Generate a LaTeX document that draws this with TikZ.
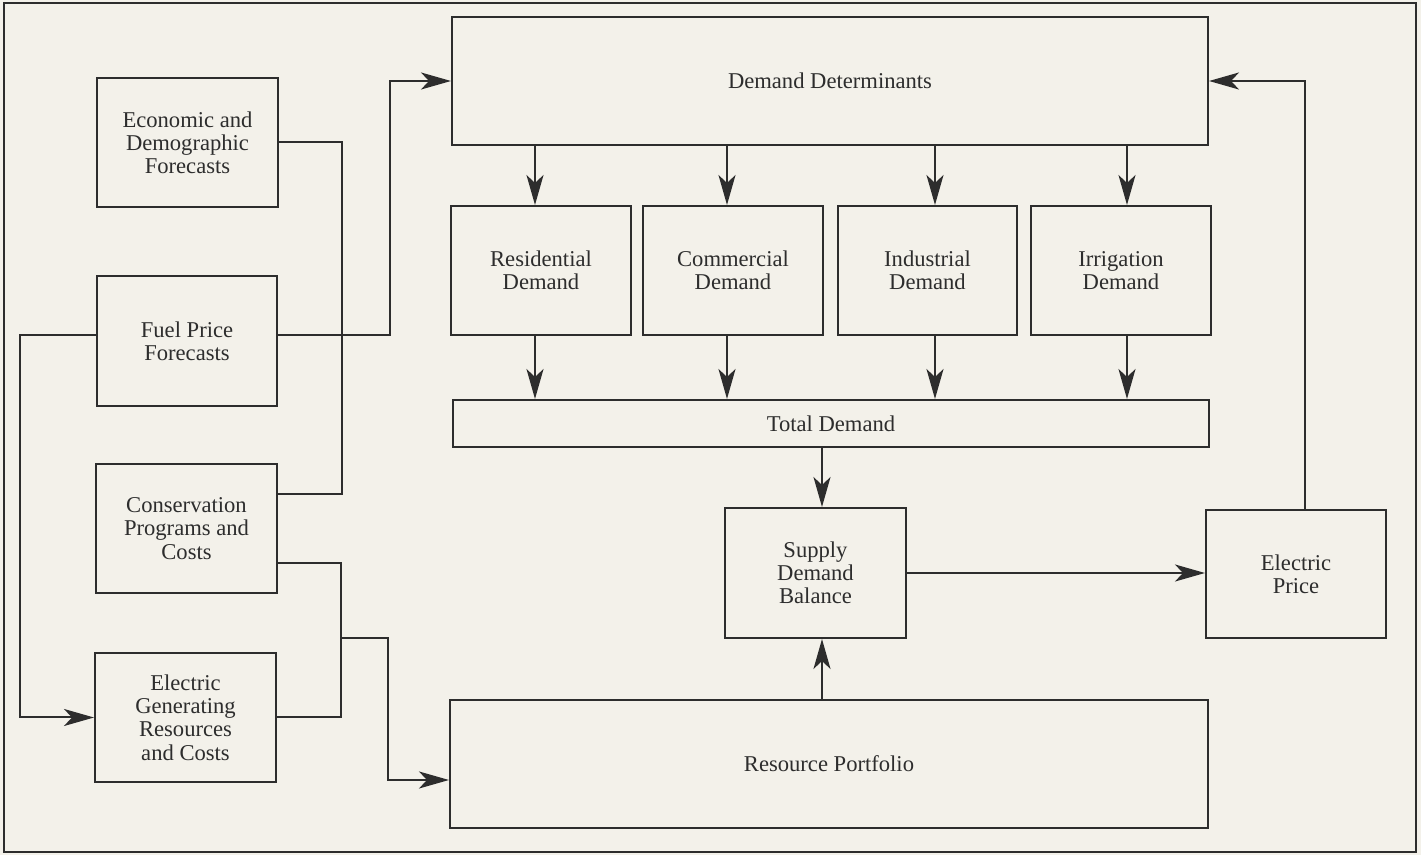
\documentclass[tikz,border=0pt]{standalone}
\usepackage{fontspec}
\setmainfont{Liberation Serif}
\usetikzlibrary{arrows.meta,calc}
\definecolor{bgc}{RGB}{243,241,234}
\definecolor{inkc}{RGB}{45,45,45}
\begin{document}
\begin{tikzpicture}[x=0.5pt,y=-0.5pt,
  bx/.style={draw=inkc,line width=1pt,inner sep=0pt,align=center,text=inkc,
    font=\fontsize{11.3}{11.6}\selectfont},
  ln/.style={draw=inkc,line width=1pt},
  arr/.style={ln,-{Stealth[length=15pt,width=8.5pt,inset=4pt]}}]
\fill[bgc] (0,0) rectangle (1421,855);
\useasboundingbox (0,0) rectangle (1421,855);
\draw[inkc,line width=1pt] (4,3) rectangle (1416,852);
% left column
\node[bx,minimum width=90.5pt,minimum height=64.5pt] (econ) at (187.5,142.5) {Economic and\\Demographic\\Forecasts};
\node[bx,minimum width=90pt,minimum height=65pt] (fuel) at (187,341) {Fuel Price\\Forecasts};
\node[bx,minimum width=90.5pt,minimum height=64.5pt] (cons) at (186.5,528.5) {Conservation\\Programs and\\Costs};
\node[bx,minimum width=90.5pt,minimum height=64.5pt] (gen) at (185.5,717.5) {Electric\\Generating\\Resources\\and Costs};
% main column
\node[bx,minimum width=378pt,minimum height=64pt] (dd) at (830,81) {Demand Determinants};
\node[bx,minimum width=90pt,minimum height=64.5pt] (res) at (541,270.5) {Residential\\Demand};
\node[bx,minimum width=90pt,minimum height=64.5pt] (com) at (733,270.5) {Commercial\\Demand};
\node[bx,minimum width=89.5pt,minimum height=64.5pt] (ind) at (927.5,270.5) {Industrial\\Demand};
\node[bx,minimum width=90pt,minimum height=64.5pt] (irr) at (1121,270.5) {Irrigation\\Demand};
\node[bx,minimum width=378pt,minimum height=23.5pt] (tot) at (831,423.5) {Total Demand};
\node[bx,minimum width=90.5pt,minimum height=65pt] (sdb) at (815.5,573) {Supply\\Demand\\Balance};
\node[bx,minimum width=90pt,minimum height=64pt] (ep) at (1296,574) {Electric\\Price};
\node[bx,minimum width=379pt,minimum height=64pt] (rp) at (829,764) {Resource Portfolio};
% junction coordinates
\coordinate (ec) at (342,494);
\coordinate (fdx) at (390,335);
\coordinate (fg) at (20,717.5);
\coordinate (cg) at (341,717.5);
\coordinate (br) at (341,638);
\coordinate (bk) at (388,638);
% left connectors
\draw[ln] (econ.east) -| (ec) -- ([yshift=17.25pt]cons.east);
\draw[arr] ([yshift=3pt]fuel.east) -- (fdx) |- (dd.west);
\draw[arr] ([yshift=3pt]fuel.west) -| (fg) -- (gen.west);
\draw[ln] ([yshift=-17.25pt]cons.east) -| (cg) -- (gen.east);
\draw[arr] (br) -- (bk) |- ([yshift=-8pt]rp.west);
% demand arrows
\foreach \n/\s in {res/-3pt,com/-3pt,ind/3.75pt,irr/3pt}{
  \draw[arr] ([xshift=\s]\n.north |- dd.south) -- ([xshift=\s]\n.north);
  \draw[arr] ([xshift=\s]\n.south) -- ([xshift=\s]\n.south |- tot.north);
}
\draw[arr] ([xshift=3.25pt]sdb.north |- tot.south) -- ([xshift=3.25pt]sdb.north);
\draw[arr] ([xshift=3.25pt]sdb.south |- rp.north) -- ([xshift=3.25pt]sdb.south);
\draw[arr] (sdb.east) -- (sdb.east -| ep.west);
\draw[arr] ([xshift=4.5pt]ep.north) |- (dd.east);
\end{tikzpicture}
\end{document}
